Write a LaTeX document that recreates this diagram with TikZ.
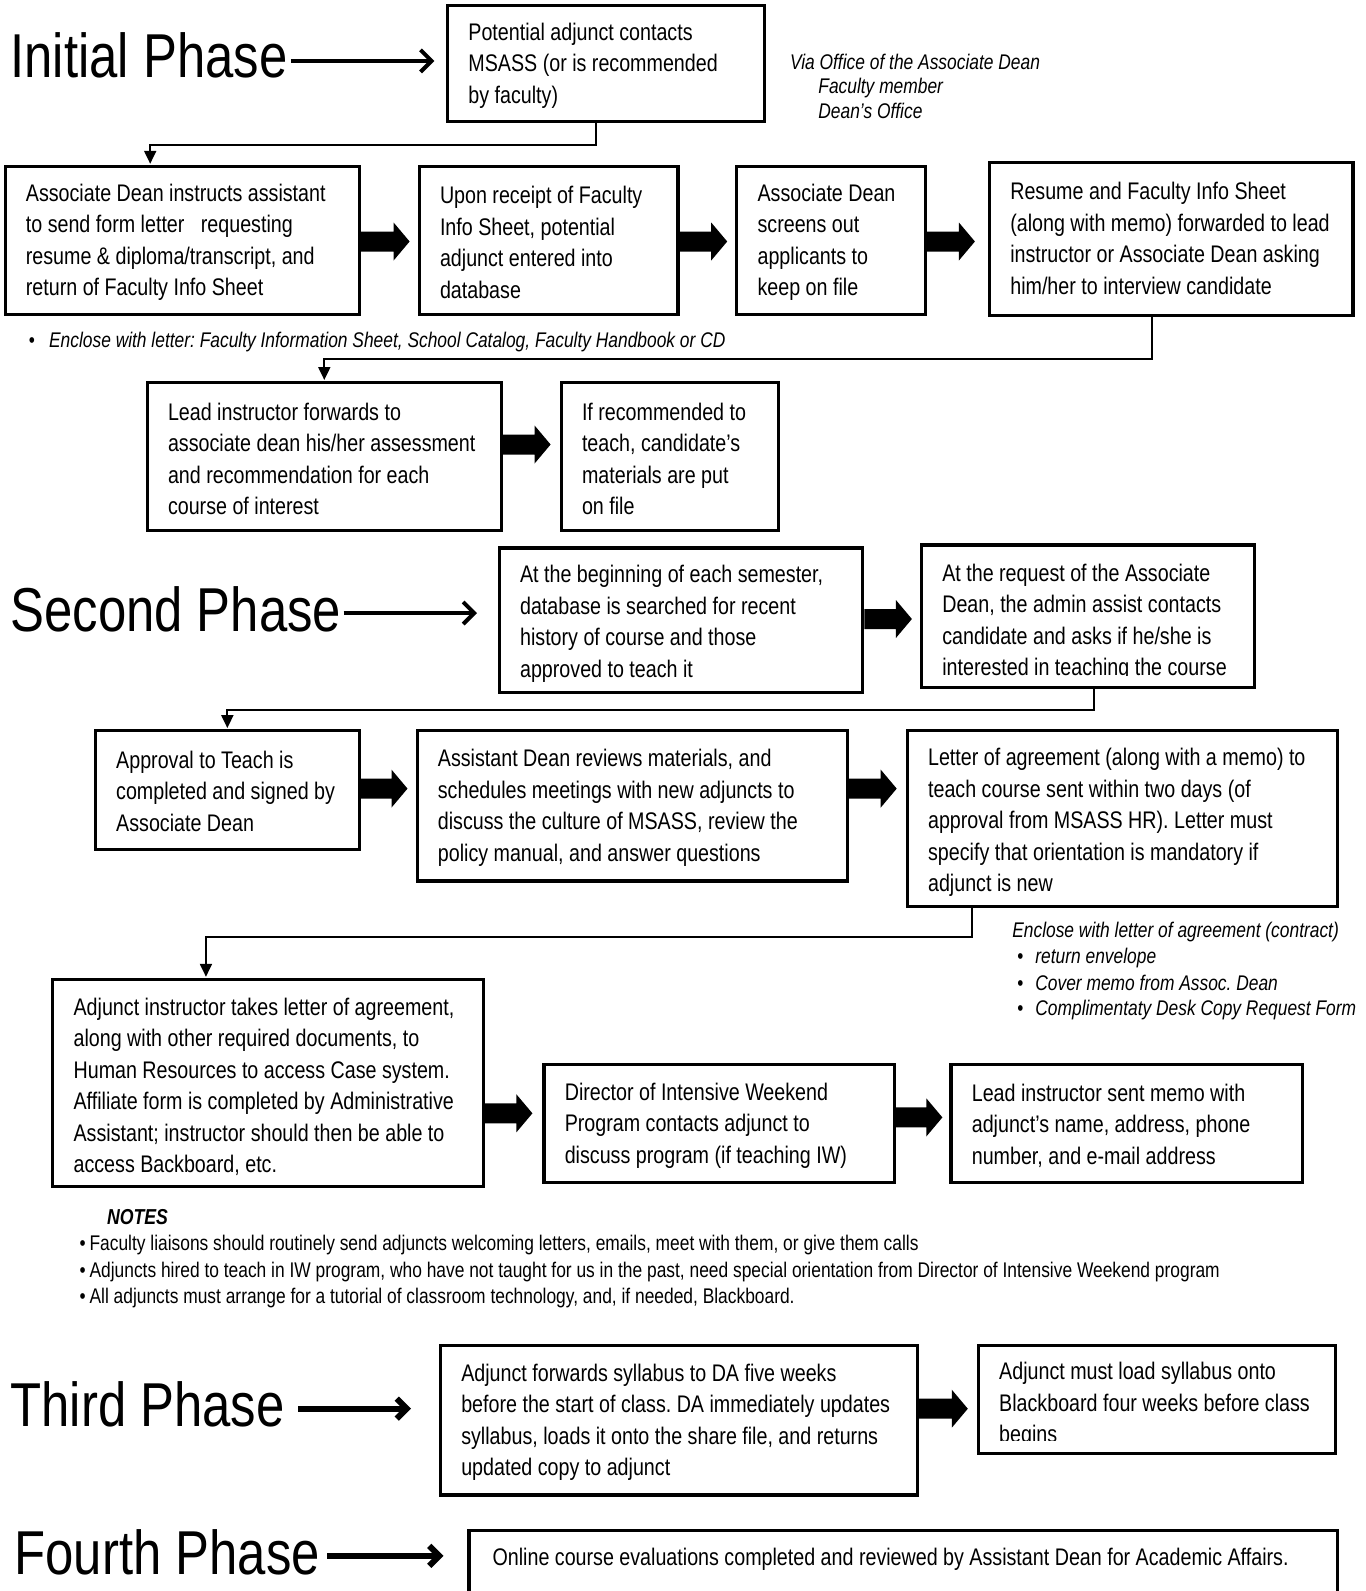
\documentclass[tikz,border=0pt]{standalone}
\usepackage{fontspec}
\setmainfont{Liberation Sans}[FakeStretch=0.82]
\usetikzlibrary{arrows.meta,calc,fit}
\frenchspacing
\tikzset{
 box/.style={draw, line width=1.6pt, inner sep=0pt},
 txt/.style={align=left, inner sep=0pt, font=\fontsize{12}{15.75}\selectfont\frenchspacing, anchor=west},
 conn/.style={line width=1pt, -{Triangle[width=6pt,length=6.5pt]}},
 parrow/.style={line width=2pt, -{Straight Barb[length=5.5pt,width=11pt]}},
 parrowb/.style={line width=3pt, -{Straight Barb[length=5pt,width=10pt]}},
 phase/.style={font=\fontsize{31}{36}\selectfont, inner sep=0pt, anchor=west},
 ital/.style={font=\fontsize{10.6}{13}\selectfont\itshape\frenchspacing, inner sep=0pt, anchor=base west},
 note/.style={font=\fontsize{10.6}{13}\selectfont\frenchspacing, inner sep=0pt, anchor=base west},
}
\newcommand\mybox[5]{\node[box, fit={(#2,#3) (#4,#5)}] (#1) {};}
\newcommand\boxtext[3]{\node[txt] (#1t) at ($(#1.west)+(22,#2+2)$) {#3};}
\newcommand\blk[4]{%
 \coordinate (by) at (0,#3);
 \coordinate (bs) at (#1.east |- by);
 \coordinate (be) at ($(#2.west |- by)+(-#4,0)$);
 \fill ($(bs)+(0,-10)$) -- ($(be)+(-16,-10)$) -- ($(be)+(-16,-19)$) -- (be)
   -- ($(be)+(-16,19)$) -- ($(be)+(-16,10)$) -- ($(bs)+(0,10)$) -- cycle;}
\begin{document}
\begin{tikzpicture}[x=0.5pt,y=-0.5pt]
\useasboundingbox (0,0) rectangle (1366,1591);
\fill[white] (0,0) rectangle (1366,1591);

% ---------- Initial phase
\node[phase] (ph1) at (10.1,55.8) {Initial Phase};
\mybox{b1}{447.6}{5.1}{764.2}{121.8}
\boxtext{b1}{0}{Potential adjunct contacts\\MSASS (or is recommended\\by faculty)}
\coordinate (a1e) at (434.4,60.9);
\draw[parrow] (ph1.east |- a1e) ++(3,0) -- (a1e);

\node[ital] (via1) at (789.6,69.5) {Via Office of the Associate Dean};
\node[ital] (via2) at (818,93.9) {Faculty member};
\node[ital] (via3) at (818,118.2) {Dean’s Office};

\mybox{A}{5.1}{166.4}{359.3}{314.6}
\boxtext{A}{0}{Associate Dean instructs assistant\\to send form letter~~ requesting\\resume \& diploma/transcript, and\\return of Faculty Info Sheet}
\mybox{B}{419.2}{166.4}{678}{314.6}
\boxtext{B}{0}{Upon receipt of Faculty\\Info Sheet, potential\\adjunct entered into\\database}
\mybox{C}{736.8}{166.4}{925.6}{314.6}
\boxtext{C}{0}{Associate Dean\\screens out\\applicants to\\keep on file}
\mybox{D}{989.5}{162.4}{1352.9}{315.6}
\boxtext{D}{-2.5}{Resume and Faculty Info Sheet\\(along with memo) forwarded to lead\\instructor or Associate Dean asking\\him/her to interview candidate}

\draw[conn] ($(b1.south)+(-10,0)$) -- ++(0,21.3) -| ($(A.north)+(-32,-1)$);
\blk{A}{B}{241.5}{8}
\blk{B}{C}{241.5}{8}
\blk{C}{D}{241.5}{13}

\node[ital] (enc1) at (28.4,347.6) {\makebox[10.15pt][l]{\upshape •}Enclose with letter: Faculty Information Sheet, School Catalog, Faculty Handbook or CD};

\mybox{E}{147.2}{382.6}{501.4}{530.8}
\boxtext{E}{0}{Lead instructor forwards to\\associate dean his/her assessment\\and recommendation for each\\course of interest}
\mybox{F}{561.2}{382.6}{778.4}{530.8}
\boxtext{F}{0}{If recommended to\\teach, candidate’s\\materials are put\\on file}
\draw[conn] ($(D.south)+(-19.3,0)$) -- ++(0,41.6) -| ($(E.north)+(0,-1)$);
\blk{E}{F}{444.5}{9}

% ---------- Second phase
\node[phase] (ph2) at (10.1,609) {Second Phase};
\mybox{G}{499.3}{548}{862.7}{692.2}
\boxtext{G}{1.5}{At the beginning of each semester,\\database is searched for recent\\history of course and those\\approved to teach it}
\mybox{H}{921.5}{545}{1254.4}{687.1}
\begin{scope}
\clip (921.5,545) rectangle (1254.4,675);
\boxtext{H}{4}{At the request of the Associate\\Dean, the admin assist contacts\\candidate and asks if he/she is\\interested in teaching the course}
\end{scope}
\coordinate (a2e) at (477,613);
\draw[parrow] (ph2.east |- a2e) ++(2,0) -- (a2e);
\blk{G}{H}{619}{8}

\mybox{I}{95.4}{730.7}{359.3}{849.5}
\boxtext{I}{-1}{Approval to Teach is\\completed and signed by\\Associate Dean}
\mybox{J}{417.1}{730.7}{847.4}{880.9}
\boxtext{J}{0}{Assistant Dean reviews materials, and\\schedules meetings with new adjuncts to\\discuss the culture of MSASS, review the\\policy manual, and answer questions}
\mybox{K}{907.3}{730.7}{1337.6}{906.3}
\boxtext{K}{2}{Letter of agreement (along with a memo) to\\teach course sent within two days (of\\approval from MSASS HR). Letter must\\specify that orientation is mandatory if\\adjunct is new}
\draw[conn] ($(H.south)+(6,0)$) -- ++(0,21.3) -| ($(I.north)+(0,-1)$);
\blk{I}{J}{788.6}{8}
\blk{J}{K}{788.6}{9}

\node[ital] (enc2) at (1011.9,937.2) {Enclose with letter of agreement (contract)};
\node[ital] (enc3) at (1017,963.6) {\makebox[9pt][l]{\upshape •}return envelope};
\node[ital] (enc4) at (1017,990) {\makebox[9pt][l]{\upshape •}Cover memo from Assoc. Dean};
\node[ital] (enc5) at (1017,1015.4) {\makebox[9pt][l]{\upshape •}Complimentaty Desk Copy Request Form};

\mybox{L}{52.8}{979.4}{483.1}{1186.4}
\boxtext{L}{2}{Adjunct instructor takes letter of agreement,\\along with other required documents, to\\Human Resources to access Case system.\\Affiliate form is completed by Administrative\\Assistant; instructor should then be able to\\access Backboard, etc.}
\mybox{M}{544}{1064.6}{894.1}{1182.4}
\boxtext{M}{0}{Director of Intensive Weekend\\Program contacts adjunct to\\discuss program (if teaching IW)}
\mybox{N}{951}{1064.6}{1302.1}{1182.4}
\boxtext{N}{0}{Lead instructor sent memo with\\adjunct’s name, address, phone\\number, and e-mail address}
\draw[conn] ($(K.south)+(-150.2,0)$) -- ++(0,29.4) -| ($(L.north)+(-62,-1)$);
\blk{L}{M}{1113.3}{10}
\blk{M}{N}{1117.4}{7}

% ---------- Notes
\node[ital,font=\fontsize{10.8}{13}\selectfont\bfseries\itshape] (notes) at (106.6,1224.5) {NOTES};
\node[note] (n1) at (79.2,1250.9) {\makebox[5pt][l]{•}Faculty liaisons should routinely send adjuncts welcoming letters, emails, meet with them, or give them calls};
\node[note] (n2) at (79.2,1277.3) {\makebox[5pt][l]{•}Adjuncts hired to teach in IW program, who have not taught for us in the past, need special orientation from Director of Intensive Weekend program};
\node[note] (n3) at (79.2,1303.6) {\makebox[5pt][l]{•}All adjuncts must arrange for a tutorial of classroom technology, and, if needed, Blackboard.};

% ---------- Third phase
\node[phase] (ph3) at (10.1,1404.6) {Third Phase};
\mybox{O}{440.5}{1345.8}{917.5}{1495}
\boxtext{O}{0}{Adjunct forwards syllabus to DA five weeks\\before the start of class. DA immediately updates\\syllabus, loads it onto the share file, and returns\\updated copy to adjunct}
\mybox{P}{978.4}{1345.8}{1335.6}{1453.3}
\begin{scope}
\clip (978.4,1345.8) rectangle (1335.6,1440);
\boxtext{P}{3.5}{Adjunct must load syllabus onto\\Blackboard four weeks before class\\begins}
\end{scope}
\coordinate (a3e) at (411,1408.7);
\draw[parrowb] (ph3.east |- a3e) ++(13,0) -- (a3e);
\blk{O}{P}{1408.7}{9}

% ---------- Fourth phase
\node[phase] (ph4) at (14.2,1552.8) {Fourth Phase};
\mybox{Q}{468.9}{1530.5}{1337.6}{1620}
\node[txt, anchor=base west] (Qt) at (492.2,1565.4) {Online course evaluations completed and reviewed by Assistant Dean for Academic Affairs.};
\coordinate (a4e) at (443.5,1555.8);
\draw[parrowb] (ph4.east |- a4e) ++(7,0) -- (a4e);
\end{tikzpicture}
\end{document}
